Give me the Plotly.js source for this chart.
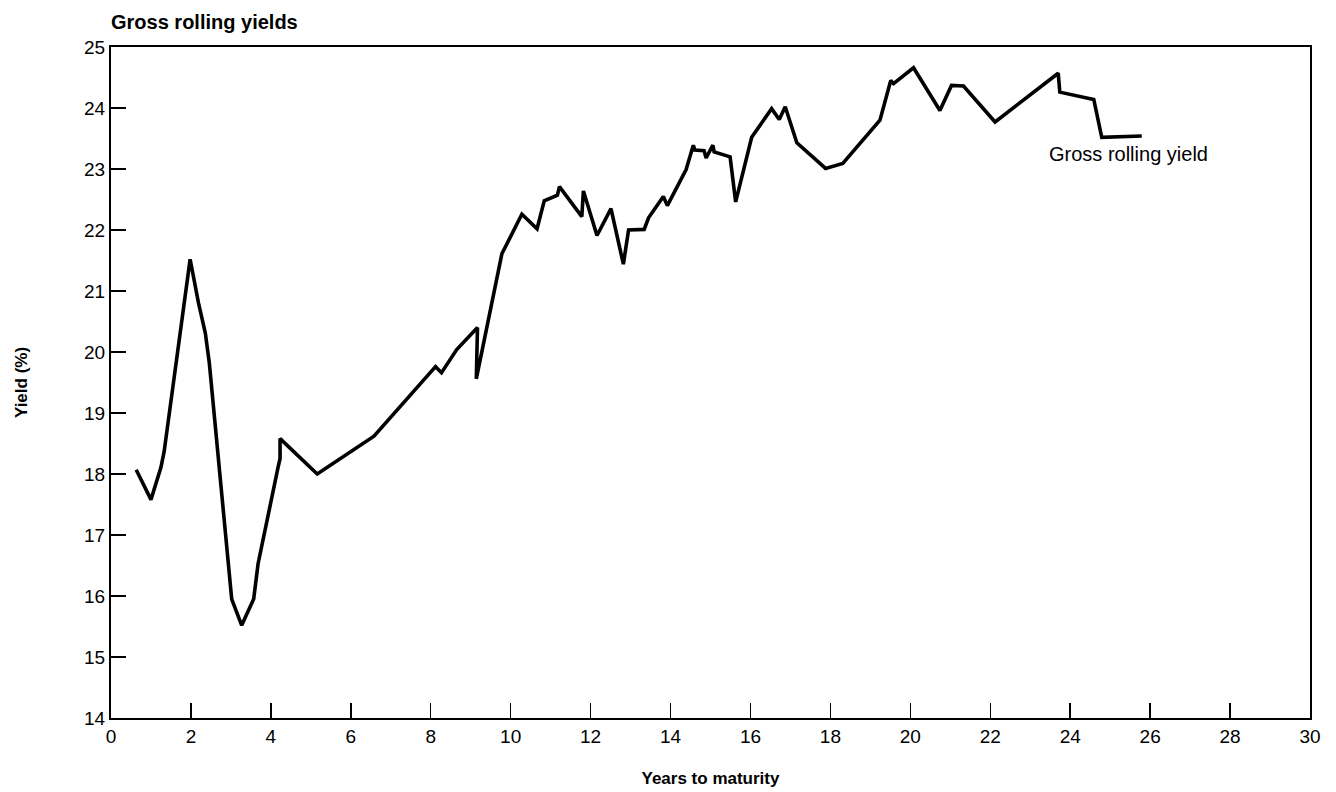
<!DOCTYPE html>
<html>
<head>
<meta charset="utf-8">
<script src="https://cdn.plot.ly/plotly-3.0.1.min.js"></script>
<style>html,body{margin:0;padding:0;background:#fff;}#chart{width:1336px;height:792px;}</style>
</head>
<body>
<div id="chart"></div>
<script>
// Years to maturity
var years = [0.63, 1.00, 1.25, 1.33, 1.98, 2.19, 2.36, 2.46, 3.02, 3.27, 3.57, 3.68, 4.19, 4.23, 4.23,
  5.16, 6.58, 8.12, 8.27, 8.57, 8.65, 9.17, 9.14, 9.78, 10.28, 10.66, 10.84, 11.17, 11.22,
  11.78, 11.82, 12.16, 12.51, 12.82, 12.95, 13.34, 13.45, 13.82, 13.92, 14.39, 14.57, 14.61,
  14.84, 14.89, 15.06, 15.09, 15.49, 15.63, 16.03, 16.53, 16.72, 16.87, 17.16, 17.88, 18.31,
  19.24, 19.51, 19.58, 20.08, 20.74, 21.03, 21.33, 22.12, 23.70, 23.74, 24.59, 24.79, 25.79];
// Gross rolling yield (%)
var yields = [18.07, 17.58, 18.11, 18.37, 21.52, 20.80, 20.31, 19.82, 15.95, 15.52, 15.95, 16.53, 18.14, 18.25, 18.58,
  18.00, 18.62, 19.76, 19.66, 19.97, 20.04, 20.40, 19.56, 21.61, 22.26, 22.02, 22.48, 22.57, 22.71,
  22.22, 22.64, 21.91, 22.35, 21.44, 22.00, 22.01, 22.20, 22.55, 22.40, 22.99, 23.39, 23.31,
  23.30, 23.18, 23.39, 23.28, 23.20, 22.46, 23.52, 23.99, 23.81, 24.02, 23.43, 23.01, 23.09,
  23.80, 24.45, 24.40, 24.66, 23.96, 24.37, 24.36, 23.77, 24.57, 24.26, 24.14, 23.52, 23.54];
var xTicks = [0, 2, 4, 6, 8, 10, 12, 14, 16, 18, 20, 22, 24, 26, 28, 30];
var yTicks = [14, 15, 16, 17, 18, 19, 20, 21, 22, 23, 24, 25];
var seriesName = "Gross rolling yield";
var chartTitle = "Gross rolling yields";
var xTitle = "Years to maturity";
var yTitle = "Yield (%)";

var font = "Liberation Sans, Arial, Helvetica, sans-serif";

var trace = {
  x: years, y: yields, type: "scatter", mode: "lines",
  name: seriesName,
  line: {color: "#000", width: 3.6, shape: "linear"},
  hoverinfo: "x+y"
};

var layout = {
  width: 1336, height: 792,
  margin: {l: 111, r: 26, t: 47, b: 74},
  paper_bgcolor: "#fff", plot_bgcolor: "#fff",
  showlegend: false,
  font: {family: font, color: "#000", size: 19},
  title: {
    text: "<b>" + chartTitle + "</b>",
    font: {family: font, size: 20, color: "#000"},
    x: 0, xref: "paper", xanchor: "left",
    y: 1 - 22 / 792, yref: "container", yanchor: "middle"
  },
  xaxis: {
    range: [0, 30], tickvals: xTicks, ticktext: xTicks.map(String),
    ticks: "inside", ticklen: 15, tickwidth: 1.5, tickcolor: "#000",
    showline: true, linecolor: "#000", linewidth: 2, mirror: true,
    showgrid: false, zeroline: false,
    tickfont: {family: font, size: 19, color: "#000"},
    title: {text: "<b>" + xTitle + "</b>", font: {family: font, size: 17, color: "#000"}, standoff: 26}
  },
  yaxis: {
    range: [14, 25], tickvals: yTicks, ticktext: yTicks.map(String),
    ticks: "inside", ticklen: 15, tickwidth: 1.5, tickcolor: "#000",
    showline: true, linecolor: "#000", linewidth: 2, mirror: true,
    showgrid: false, zeroline: false,
    tickfont: {family: font, size: 19, color: "#000"},
    title: {text: "<b>" + yTitle + "</b>", font: {family: font, size: 17, color: "#000"}, standoff: 52}
  },
  annotations: [{
    x: 23.41, y: 23.25, xref: "x", yref: "y",
    text: seriesName, showarrow: false,
    xanchor: "left", yanchor: "middle",
    font: {family: font, size: 20, color: "#000"}
  }]
};

Plotly.newPlot("chart", [trace], layout, {displayModeBar: false, staticPlot: true});
</script>
</body>
</html>
